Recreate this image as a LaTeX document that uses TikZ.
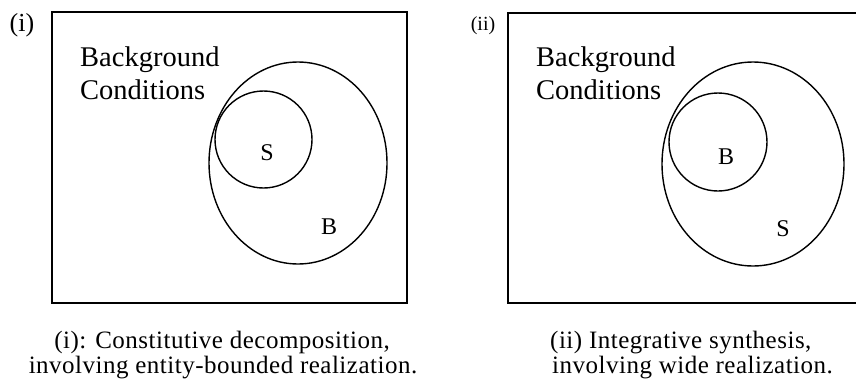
\documentclass[tikz,border=0pt]{standalone}
\usepackage{fontspec}
\setmainfont{Liberation Serif}
\newfontfamily\capfont[LetterSpace=2]{Liberation Serif}
\begin{document}
\begin{tikzpicture}[x=1pt,y=-1pt,
		frame/.style={line width=1.8pt},
		blob/.style={line width=1.4pt},
		bgtext/.style={anchor=base west,inner sep=0pt,font=\fontsize{28.5}{33}\selectfont},
		setname/.style={inner sep=0pt,font=\fontsize{24}{28}\selectfont},
		capline/.style={anchor=base,inner sep=0pt,font=\capfont\fontsize{25}{29}\selectfont}]
		\useasboundingbox (0,0) rectangle (856,383);
		% left panel (i)
		\draw[frame] (52,12) rectangle (407,303);
		\draw[blob] (298,163) ellipse [x radius=89,y radius=101];
		\draw[blob] (263.5,139.5) circle [radius=48.5];
		\node[inner sep=0pt,font=\fontsize{26}{30}\selectfont] (lab1) at (22,25) {(i)};
		\node[bgtext] (bg1) at (80,66) {Background};
		\node[bgtext] (cd1) at (80,99) {Conditions};
		\node[setname] (s1) at (267,153) {S};
		\node[setname] (b1) at (329,227) {B};
		% right panel (ii)
		\draw[frame] (858,13) -- (508,13) -- (508,303) -- (858,303);
		\draw[blob] (753,164) ellipse [x radius=91,y radius=102];
		\draw[blob] (718,142) circle [radius=49];
		\node[inner sep=0pt,font=\fontsize{20}{24}\selectfont] (lab2) at (483,26) {(ii)};
		\node[bgtext] (bg2) at (536,66) {Background};
		\node[bgtext] (cd2) at (536,99) {Conditions};
		\node[setname] (b2) at (726,157) {B};
		\node[setname] (s2) at (783,229) {S};
		% captions
		\node[capline] (c1a) at (222,348) {(i): Constitutive decomposition,};
		\node[capline] (c1b) at (223,373) {involving entity-bounded realization.};
		\node[capline,anchor=base west] (c2a) at (550,348) {(ii) Integrative synthesis,};
		\node[capline,anchor=base west] (c2b) at (552,373) {involving wide realization.};
	\end{tikzpicture}
\end{document}
